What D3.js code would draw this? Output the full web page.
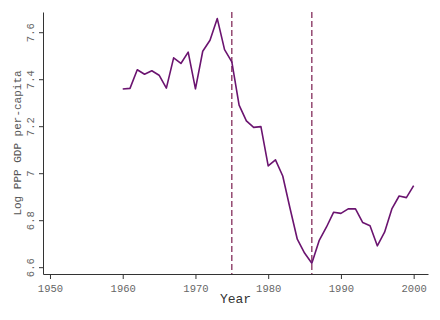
<!DOCTYPE html>
<html>
<head>
<meta charset="utf-8">
<script src="https://cdn.jsdelivr.net/npm/d3@7"></script>
<style>
  body { margin: 0; background: #fff; }
  svg { display: block; }
</style>
</head>
<body>
<svg id="chart"></svg>
<script>
// data
const years = [1960, 1961, 1962, 1963, 1964, 1965, 1966, 1967, 1968, 1969,
    1970, 1971, 1972, 1973, 1974, 1975, 1976, 1977, 1978, 1979,
    1980, 1981, 1982, 1983, 1984, 1985, 1986, 1987, 1988, 1989,
    1990, 1991, 1992, 1993, 1994, 1995, 1996, 1997, 1998, 1999, 2000];
const logGdp = [7.358, 7.361, 7.440, 7.421, 7.436, 7.417, 7.362, 7.491, 7.467, 7.515,
    7.359, 7.519, 7.566, 7.658, 7.526, 7.474, 7.290, 7.223, 7.195, 7.198,
    7.031, 7.057, 6.988, 6.851, 6.719, 6.660, 6.617, 6.713, 6.770, 6.834,
    6.829, 6.848, 6.848, 6.790, 6.776, 6.691, 6.749, 6.848, 6.903, 6.896, 6.947];
const breakYears = [1975, 1986];
const xTicks = [1950, 1960, 1970, 1980, 1990, 2000];
const yTicks = [6.6, 6.8, 7, 7.2, 7.4, 7.6];

function drawChart() {
    const width = 440;
    const height = 320;
    const padding = { top: 12, right: 12, bottom: 46, left: 43 };

    const svg = d3.select('#chart')
        .attr('width', width)
        .attr('height', height);

    const x = d3.scaleLinear()
        .domain([1949.04, 2001.97])
        .range([padding.left, width - padding.right]);
    const y = d3.scaleLinear()
        .domain([6.571, 7.686])
        .range([height - padding.bottom, padding.top]);

    const tickFont = '"Liberation Mono", "DejaVu Sans Mono", monospace';

    // x axis
    const xAxis = svg.append('g')
        .attr('transform', `translate(0, ${height - padding.bottom})`)
        .call(d3.axisBottom(x).tickValues(xTicks).tickFormat(d3.format('d')).tickSize(5).tickSizeOuter(0));
    xAxis.select('.domain').attr('stroke', '#333');
    xAxis.selectAll('line').attr('stroke', '#333');
    xAxis.selectAll('text')
        .attr('fill', '#666')
        .style('font-family', tickFont)
        .style('font-size', '10.5px')
        .attr('dy', '0.95em');

    // y axis
    const yAxis = svg.append('g')
        .attr('transform', `translate(${padding.left}, 0)`)
        .call(d3.axisLeft(y).tickValues(yTicks).tickFormat(d => String(d)).tickSize(4).tickSizeOuter(0));
    yAxis.select('.domain').attr('stroke', '#333');
    yAxis.selectAll('line').attr('stroke', '#333');
    yAxis.selectAll('text')
        .attr('fill', '#666')
        .style('font-family', tickFont)
        .style('font-size', '10.5px')
        .attr('x', null)
        .attr('dy', null)
        .attr('text-anchor', 'middle')
        .attr('transform', 'translate(-9, 0) rotate(-90)');

    // vertical dashed break lines
    svg.selectAll('.break')
        .data(breakYears)
        .enter().append('line')
        .attr('class', 'break')
        .attr('x1', d => x(d))
        .attr('x2', d => x(d))
        .attr('y1', padding.top)
        .attr('y2', height - padding.bottom)
        .attr('stroke', '#7a1c4e')
        .attr('stroke-width', 1.2)
        .attr('stroke-dasharray', '6,3');

    // the series
    const line = d3.line()
        .x((d, i) => x(years[i]))
        .y(d => y(d));

    svg.append('path')
        .datum(logGdp)
        .attr('fill', 'none')
        .attr('stroke', '#6b1470')
        .attr('stroke-width', 1.6)
        .attr('stroke-linejoin', 'round')
        .attr('d', line);

    // axis titles
    svg.append('text')
        .text('Year')
        .attr('x', (padding.left + width - padding.right) / 2)
        .attr('y', height - 17)
        .style('text-anchor', 'middle')
        .style('font-family', tickFont)
        .style('font-size', '13px')
        .attr('fill', '#333');

    svg.append('text')
        .text('Log PPP GDP per-capita')
        .attr('transform', `translate(21, ${(padding.top + height - padding.bottom) / 2}) rotate(-90)`)
        .style('text-anchor', 'middle')
        .style('font-family', tickFont)
        .style('font-size', '11px')
        .attr('fill', '#555');
}

window.addEventListener('load', drawChart);
</script>
</body>
</html>
